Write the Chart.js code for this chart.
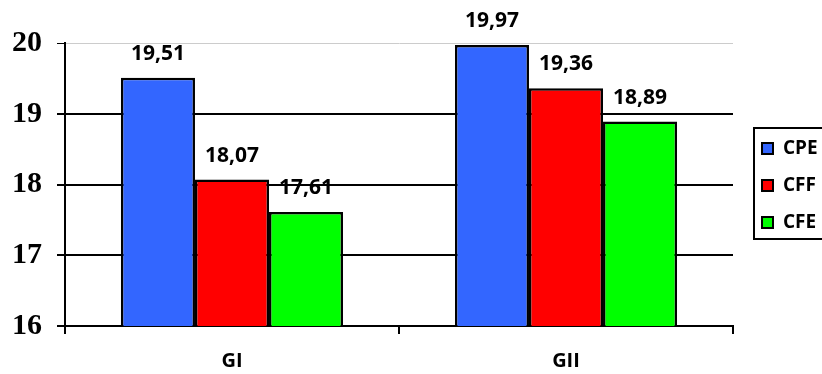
<!DOCTYPE html>
<html>
<head>
<meta charset="utf-8">
<script src="https://cdn.jsdelivr.net/npm/chart.js@4"></script>
<style>
  body { margin: 0; background: #fff; }
  #wrap { width: 822px; height: 374px; position: relative; }
</style>
</head>
<body>
<div id="wrap"><canvas id="grafico"></canvas></div>
<script>
// datos
const grupos = ['GI', 'GII'];
const series = ['CPE', 'CFF', 'CFE'];
const valoresCPE = [19.51, 19.97];
const valoresCFF = [18.07, 19.36];
const valoresCFE = [17.61, 18.89];
const colores = ['#3366ff', '#ff0000', '#00ff00'];
const marcasY = [16, 17, 18, 19, 20];

// etiquetas con coma decimal encima de cada barra
const etiquetas = {
    id: 'etiquetas',
    afterDatasetsDraw(chart) {
        const ctx = chart.ctx;
        ctx.save();
        ctx.font = 'bold 21px "Open Sans"';
        ctx.fillStyle = '#000';
        ctx.textAlign = 'center';
        ctx.textBaseline = 'alphabetic';
        chart.data.datasets.forEach((ds, i) => {
            chart.getDatasetMeta(i).data.forEach((bar, j) => {
                const txt = ds.data[j].toFixed(2).replace('.', ',');
                ctx.fillText(txt, bar.x, bar.y - 18);
            });
        });
        ctx.restore();
    }
};

// leyenda a la derecha, con caja
const leyenda = {
    id: 'leyenda',
    afterDraw(chart) {
        const ctx = chart.ctx;
        ctx.save();
        ctx.strokeStyle = '#000';
        ctx.lineWidth = 2;
        ctx.strokeRect(754, 128, 90, 111);
        ctx.font = 'bold 19px "Open Sans"';
        ctx.textBaseline = 'middle';
        ctx.textAlign = 'left';
        series.forEach((nombre, i) => {
            const y = 148 + i * 37;
            ctx.fillStyle = colores[i];
            ctx.fillRect(762, y - 5, 11, 11);
            ctx.lineWidth = 2;
            ctx.strokeRect(762, y - 5, 11, 11);
            ctx.fillStyle = '#000';
            ctx.fillText(nombre, 783, y + 1);
        });
        ctx.restore();
    }
};

const datos = [valoresCPE, valoresCFF, valoresCFE];

new Chart(document.getElementById('grafico'), {
    type: 'bar',
    data: {
        labels: grupos,
        datasets: series.map((nombre, i) => ({
            label: nombre,
            data: datos[i],
            backgroundColor: colores[i],
            borderColor: '#000',
            borderWidth: 2.5,
            borderSkipped: false,
            barPercentage: 1,
            categoryPercentage: 0.665
        }))
    },
    options: {
        responsive: true,
        maintainAspectRatio: false,
        animation: false,
        layout: { padding: { top: 43, right: 89, left: 0, bottom: 0 } },
        plugins: { legend: { display: false }, tooltip: { enabled: false } },
        scales: {
            x: {
                grid: { offset: true, drawOnChartArea: false, color: '#000', lineWidth: 2, tickLength: 8 },
                border: { color: '#000', width: 2 },
                ticks: { color: '#000', font: { family: 'Open Sans', size: 20, weight: 'bold' }, padding: 15 },
                afterFit(scale) { scale.height = 48; }
            },
            y: {
                min: marcasY[0],
                max: marcasY[marcasY.length - 1],
                afterBuildTicks(scale) { scale.ticks = marcasY.map(v => ({ value: v })); },
                grid: {
                    color: c => (c.tick && c.tick.value === 20) ? '#cccccc' : '#000',
                    lineWidth: c => (c.tick && c.tick.value === 20) ? 1 : 2,
                    tickColor: '#000',
                    tickLength: 8
                },
                border: { color: '#000', width: 2 },
                ticks: { color: '#000', font: { family: 'Liberation Serif', size: 30, weight: 'bold' }, padding: 15 },
                afterFit(scale) { scale.width = 65; }
            }
        }
    },
    plugins: [etiquetas, leyenda]
});
</script>
</body>
</html>
